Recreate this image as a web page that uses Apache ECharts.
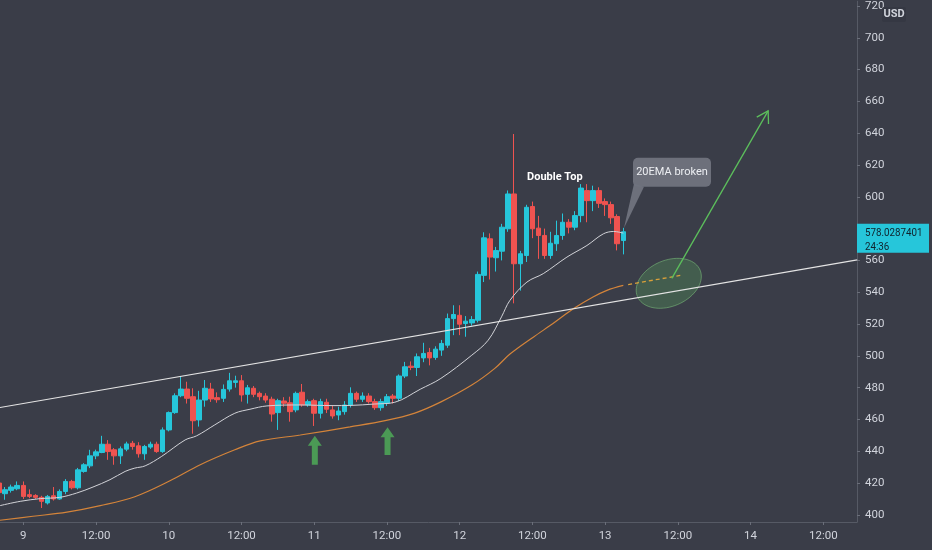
<!DOCTYPE html>
<html><head><meta charset="utf-8">
<script src="https://cdn.jsdelivr.net/npm/echarts@6/dist/echarts.min.js"></script>
<style>html,body{margin:0;padding:0;background:#3a3d48;}#c{width:932px;height:550px;}</style>
</head><body><div id="c"></div>
<script>
// ---- data (hours since day 9 00:00, prices in USD) ----
const firstHour = -4;
const opens  = [420,413.3,415.4,416.4,418.5,412.7,412.2,411,407.5,412,410,414.7,421,417,427.3,430.8,437.1,439.2,444.4,440.9,437.1,441.3,445,443.4,438.4,442.6,444.4,439.8,453.4,464.3,474.9,479.1,474.3,459.7,472.2,479.1,473.7,473.3,479.1,483.3,484.3,475.8,479.6,476.4,474.7,472.7,464.3,471.6,470.5,466,477.1,469.1,471.8,463.9,470.8,466,462.8,464.9,469.1,476.4,472.7,474.7,471.2,467.4,470.2,474.7,473.3,487.3,493.5,492.7,498.7,502.1,499,503.6,506.7,523.4,525.5,520.3,520.7,522.4,550.6,573.6,561.7,565.8,579.9,601.8,557.9,563.1,593.9,580.3,575.7,563.1,570.5,575.7,584,580.9,588.2,603.9,597.6,603.9,597,595.1,587.6,572.5];
const closes = [414,415.8,417.5,418.5,411.6,411.6,411,408.5,411.6,410,414.7,421,417,428.3,431.5,437.1,439.6,444.4,439.8,437.1,441.5,444.6,443,438.4,443,444.4,439.8,453.4,464.3,474.9,479.1,473.3,459.2,472.2,479.6,472.9,472.4,478.9,484.3,484.3,475.4,479.9,475.8,474.3,472.2,463.4,471.8,470.2,464.9,476.4,469.1,471.2,463.9,471.2,466.4,462.2,465.3,469.1,476.4,472.7,474.7,471.2,467.4,471.2,474.3,473.3,487.3,493.1,492.7,499.4,501.5,498.7,504.2,507.8,523.4,526,519.9,521.8,522.8,551.2,574.2,562.1,566.2,580.9,601.8,557.9,564.2,593.4,579.9,575.7,563.1,570.8,575.7,584,580.9,588.2,605.5,597.6,603.9,595.9,595.1,586.8,570.5,578.0287401];
const lows   = [412,409.5,414,415.5,410,410.5,410,404.3,406.5,409,409.5,413,416,416,426.5,429.4,435,438.8,434.6,431.5,432,440,441,436,434.6,441.5,439,439,452.5,463.5,474,470,451,455.5,468,471,470.5,471,477.5,480,471.2,470,474,472,470.5,458.6,453.4,468,458.6,464.5,468,468,455.9,460.6,464,460.5,459.5,463,467.5,471,471,470,466,465.5,468.5,470,471.5,486,491,487.3,496,494,497.5,500,505,513,513,512,519,521,546.4,548,553,560,578,533,541,559,574,561,561,561,566,573,577,579,584,584,591,593,588,583,566.3,563.8];
const highs  = [422,417.5,419,421,421,416,413,412,412.5,417.5,416,422.5,422,429.5,432.5,440.9,441,449.7,447,442,443,446,446.5,445.7,444,446,446,455,465,476.4,487.3,483.7,479.6,478,484.8,483,477,482,489.3,487.5,487.9,481.7,481,477.5,476.5,474.3,473,474,474.3,477.5,482.3,472.5,473,473,473,468.5,468,471.5,480.2,477.5,477,476.5,473,473,476,476,488.3,496.2,496.5,501.5,508.2,505,506,510,526.6,531.8,531.8,525,525,553,577.7,577,568.5,583,604,639.5,566,595,597,588,580,578,585,589.5,586,591,608,608,607,606,599,597,589,580.5];
const ema20 = [[-3.85,405.8],[-0.5,408.5],[2.8,410.2],[6,411],[8.8,413.7],[11.5,417.5],[14.3,422.1],[16.8,427.3],[18.4,429.4],[20.1,430.8],[22.8,436.7],[26.7,447.1],[28.6,449.7],[31.6,456.6],[34.9,463.9],[37.4,466.4],[40.2,468.5],[45.7,469.1],[51.1,468.7],[53.9,468.8],[58,469.7],[61.3,470.8],[65.5,479],[68.9,485.8],[74,500.4],[76.7,509.8],[78.9,524.5],[80.3,534.9],[83.1,546.4],[85.8,551.7],[89.7,562.1],[93,569.4],[95.7,576.7],[97.4,578.2],[99,577.2]];
const ema50 = [[-3.85,396.6],[1.6,399.1],[7.2,401.7],[12.7,405.8],[18.4,411.4],[24.2,421.4],[29.2,431.5],[34.9,440.9],[39.1,446.5],[45.7,450.2],[53.9,455.3],[59.7,459.2],[64.6,464],[69,471.2],[74,481.6],[77.8,492.1],[80.3,501.1],[84.2,511.9],[87.4,520.3],[90.8,529.7],[94,537],[96.3,541.2],[99,544.3]];
const trendLine = [[-3.85,467.5],[137.6,560.4]];
const projection = [[99.8,544.8],[108.4,550.6]];
const targetArrow = [[107.0,548.7],[122.9,654.0]];
const upArrows = [[48.1,431.5,449.7],[60.1,437.7,455.1]];
const zoneCenter = [106.5,545.6];
const doubleTopAt = [87.7,612.6];
const calloutBox = [100.6,624.6];
const calloutTip = [99.1,580.3];
const lastPrice = 578.0287401;
const countdown = '24:36';
const xTicks = [0,12,24,36,48,60,72,84,96,108,120,132];
const xTickLabels = ['9','12:00','10','12:00','11','12:00','12','12:00','13','12:00','14','12:00'];
const yTicks = [400,420,440,460,480,500,520,540,560,580,600,620,640,660,680,700,720];

const candleData = opens.map((o,i)=>[firstHour+i,o,closes[i],lows[i],highs[i]]);
const FONT = 'Roboto, "Open Sans", sans-serif';
const chart = echarts.init(document.getElementById('c'));
chart.setOption({
  animation:false,
  backgroundColor:'#3a3d48',
  textStyle:{fontFamily:FONT},
  grid:{left:0,right:75,top:0,bottom:28},
  xAxis:{type:'value',min:-3.845,max:137.56,
    axisLine:{show:true,onZero:false,lineStyle:{color:'#565a65'}},
    axisTick:{show:true,length:3,customValues:xTicks,lineStyle:{color:'#6a6e79'}},
    axisLabel:{customValues:xTicks,color:'#d1d4dc',fontSize:11.5,margin:8,
      formatter:v=>{const i=xTicks.indexOf(v);return i>=0?xTickLabels[i]:'';}},
    splitLine:{show:false}},
  yAxis:{type:'value',position:'right',min:395.5,max:723,scale:true,
    axisLine:{show:true,onZero:false,lineStyle:{color:'#565a65'}},
    axisTick:{show:true,length:3,customValues:yTicks,lineStyle:{color:'#6a6e79'}},
    axisLabel:{customValues:yTicks,color:'#d1d4dc',fontSize:11.5,margin:8,
      formatter:v=>(yTicks.indexOf(v)>=0 && Math.abs(v-lastPrice)>8)?String(v):''},
    splitLine:{show:false}},
  series:[
    {type:'candlestick',data:candleData,barWidth:5,z:2,
      itemStyle:{color:'#26c6da',color0:'#ef5350',borderColor:'#26c6da',borderColor0:'#ef5350',borderWidth:1}},
    {type:'line',data:ema20,smooth:0.35,showSymbol:false,z:3,lineStyle:{color:'#d2d3d8',width:1}},
    {type:'line',data:ema50,smooth:0.35,showSymbol:false,z:3,lineStyle:{color:'#d4843a',width:1.2}},
    {type:'line',data:projection,showSymbol:false,z:3,lineStyle:{color:'#d9a03a',width:1.3,type:[4,3]}},
    {type:'line',data:trendLine,showSymbol:false,z:4,lineStyle:{color:'#e4e4e4',width:1.2}}
  ]
});

function px(p){return chart.convertToPixel({seriesIndex:0},p);}
const g = [];
// ellipse zone
(function(){
  const c = px(zoneCenter), rx=34, ry=23, th=-0.4, pts=[];
  for(let k=0;k<72;k++){const t=k/72*Math.PI*2;
    pts.push([c[0]+rx*Math.cos(t)*Math.cos(th)-ry*Math.sin(t)*Math.sin(th),
              c[1]+rx*Math.cos(t)*Math.sin(th)+ry*Math.sin(t)*Math.cos(th)]);}
  g.push({type:'polygon',z:1,shape:{points:pts},style:{fill:'rgba(95,175,95,0.28)',stroke:'rgba(125,195,125,0.55)',lineWidth:1}});
})();
// target arrow
(function(){
  const a=px(targetArrow[0]), b=px(targetArrow[1]);
  const dx=a[0]-b[0], dy=a[1]-b[1], L=Math.hypot(dx,dy), ux=dx/L, uy=dy/L, len=13, ang=0.55;
  const r=(s)=>[b[0]+len*(ux*Math.cos(s)-uy*Math.sin(s)), b[1]+len*(ux*Math.sin(s)+uy*Math.cos(s))];
  g.push({type:'line',z:10,shape:{x1:a[0],y1:a[1],x2:b[0],y2:b[1]},style:{stroke:'#5cbf5c',lineWidth:1.3}});
  g.push({type:'polyline',z:10,shape:{points:[r(ang),b,r(-ang)]},style:{stroke:'#5cbf5c',lineWidth:1.3,fill:null}});
})();
// up arrows
upArrows.forEach(u=>{
  const t=px([u[0],u[2]]), bt=px([u[0],u[1]]), x=t[0], yt=t[1], yb=bt[1];
  g.push({type:'polygon',z:10,shape:{points:[[x,yt],[x+7,yt+10],[x+3,yt+10],[x+3,yb],[x-3,yb],[x-3,yt+10],[x-7,yt+10]]},
    style:{fill:'#4b9a55'}});
});
// callout
(function(){
  const b=px(calloutBox), t=px(calloutTip), w=78, h=29;
  const fill='rgba(112,115,126,0.95)';
  g.push({type:'polygon',z:10,shape:{points:[[b[0]+1,b[1]+h-3],[b[0]+11,b[1]+h],t]},style:{fill:fill}});
  g.push({type:'rect',z:10,shape:{x:b[0],y:b[1],width:w,height:h,r:5},style:{fill:fill}});
  g.push({type:'text',z:11,x:b[0]+w/2,y:b[1]+h/2,style:{text:'20EMA broken',fill:'#eceef2',font:'11px '+FONT,align:'center',verticalAlign:'middle'}});
})();
// Double Top
(function(){const p=px(doubleTopAt);
  g.push({type:'text',z:11,x:p[0],y:p[1],style:{text:'Double Top',fill:'#ffffff',font:'bold 11px '+FONT,align:'center',verticalAlign:'middle'}});})();
// last price label
(function(){const p=px([0,lastPrice]);
  g.push({type:'rect',z:100,shape:{x:857,y:p[1]-8,width:72,height:29},style:{fill:'#26c6da'}});
  g.push({type:'text',z:101,x:865,y:p[1]+1,scaleX:0.85,style:{text:String(lastPrice),fill:'#10212b',font:'11.5px '+FONT,verticalAlign:'middle'}});
  g.push({type:'text',z:101,x:865,y:p[1]+15,scaleX:0.85,style:{text:countdown,fill:'#10212b',font:'11.5px '+FONT,verticalAlign:'middle'}});
})();
// currency
g.push({type:'rect',z:12,shape:{x:882,y:7,width:24,height:15,r:2},style:{fill:'#353843'}});
g.push({type:'text',z:13,x:894,y:14.5,style:{text:'USD',fill:'#d1d4dc',font:'bold 11px '+FONT,align:'center',verticalAlign:'middle'}});
chart.setOption({graphic:g});
</script></body></html>
